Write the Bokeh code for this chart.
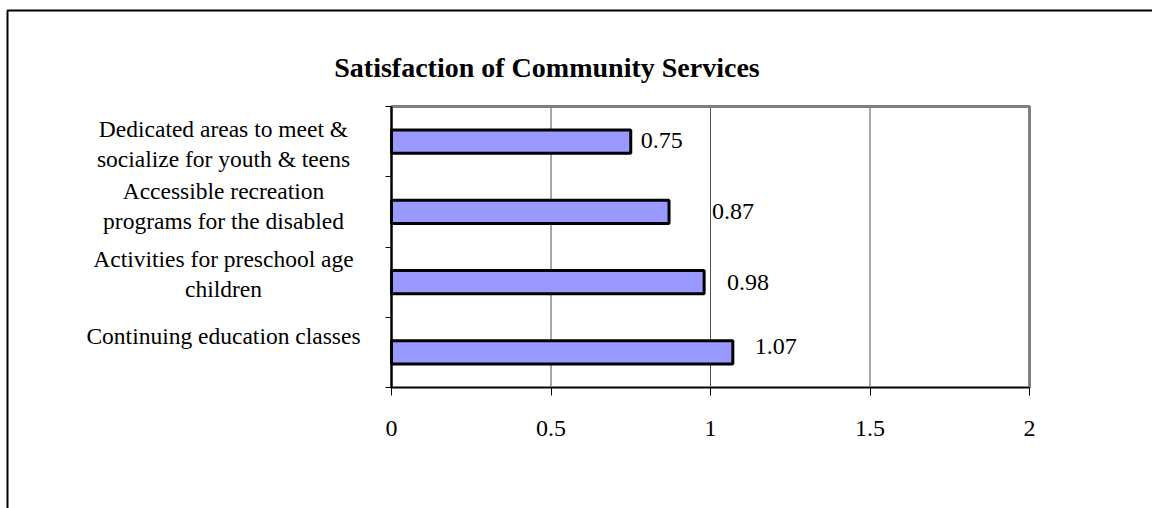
from bokeh.plotting import figure
from bokeh.models import (Range1d, FixedTicker, ColumnDataSource, LinearAxis, Grid)
from bokeh.core.properties import value
from bokeh.embed import file_html
from bokeh.resources import INLINE

# ---- data (top to bottom as shown) ----
title_text = "Satisfaction of Community Services"
categories = [
    "Dedicated areas to meet &\nsocialize for youth & teens",
    "Accessible recreation\nprograms for the disabled",
    "Activities for preschool age\nchildren",
    "Continuing education classes",
]
scores = [0.75, 0.87, 0.98, 1.07]
score_labels = ["0.75", "0.87", "0.98", "1.07"]
x_ticks = [0, 0.5, 1, 1.5, 2]

# ---- layout / style ----
W, H = 1152, 508
FRAME_L, FRAME_R, FRAME_T, FRAME_B = 391, 1029, 106, 387   # plot-area box in pixels
X_MAX = 2.0
n = len(categories)
SERIF = "Liberation Serif"

# small pixel nudges for label placement (style only; +y = down)
value_dx = [10, 43, 23, 22]
value_dy = [-1, 0, 0, -6]
cat_dy = [2, -6, -8, -16]


def px_to_x(px):
    return (px - FRAME_L) / (FRAME_R - FRAME_L) * X_MAX


def py_to_y(py):
    return n - (py - FRAME_T) / (FRAME_B - FRAME_T) * n


ypos = [n - i - 0.5 for i in range(n)]
grid_x = [t for t in x_ticks if 0 < t < X_MAX]

src = ColumnDataSource(dict(
    y=ypos, score=scores, score_label=score_labels, cat=categories,
    dx=value_dx, vdy=value_dy, cdy=cat_dy,
))

p = figure(
    width=W, height=H, output_backend="svg", toolbar_location=None, title=None,
    x_range=Range1d(px_to_x(0), px_to_x(W)), y_range=Range1d(py_to_y(H), py_to_y(0)),
    x_axis_location=None, y_axis_location=None,
    min_border=0, min_border_left=0, min_border_right=0, min_border_top=0, min_border_bottom=0,
    background_fill_color="white", border_fill_color="white",
    outline_line_color=None,
)
# drop default full-canvas grids
for g in list(p.center):
    if isinstance(g, Grid):
        g.visible = False

# outer chart frame (only left/top edges fall inside the window)
p.quad(left=[px_to_x(7)], right=[px_to_x(W + 100)], top=[py_to_y(10)], bottom=[py_to_y(H + 100)],
       fill_color=None, line_color="black", line_width=2)

# vertical gridlines inside the plot area
p.segment(x0=grid_x, x1=grid_x, y0=[0] * len(grid_x), y1=[n] * len(grid_x),
          line_color="#505050", line_width=1)

# plot-area border (grey)
p.quad(left=[0], right=[X_MAX], bottom=[0], top=[n], fill_color=None,
       line_color="#808080", line_width=3)

# bars
p.hbar(y="y", right="score", left=0, height=0.33, source=src,
       fill_color="#9999FF", line_color="black", line_width=3)

# x axis fixed at y = 0
xaxis = LinearAxis(fixed_location=0, bounds=(0, X_MAX), ticker=FixedTicker(ticks=x_ticks))
xaxis.axis_line_color = "black"
xaxis.axis_line_width = 1
xaxis.major_tick_out = 8
xaxis.major_tick_in = 0
xaxis.major_tick_line_color = "black"
xaxis.minor_tick_line_color = None
xaxis.major_label_text_font = SERIF
xaxis.major_label_text_font_size = "24px"
xaxis.major_label_text_color = "black"
xaxis.major_label_standoff = 25
p.add_layout(xaxis, "below")

# y axis fixed at x = 0, ticks on category boundaries, no tick labels
yticks = list(range(n + 1))
yaxis = LinearAxis(fixed_location=0, bounds=(0, n), ticker=FixedTicker(ticks=yticks))
yaxis.axis_line_color = "black"
yaxis.axis_line_width = 2
yaxis.major_tick_out = 6
yaxis.major_tick_in = 0
yaxis.major_tick_line_color = "black"
yaxis.minor_tick_line_color = None
yaxis.major_label_overrides = {t: "" for t in yticks}
p.add_layout(yaxis, "left")

# value labels
p.text(x="score", y="y", text="score_label", x_offset="dx", y_offset="vdy",
       source=src, text_font=value(SERIF), text_font_size="24px",
       text_color="black", text_align="left", text_baseline="middle")

# category labels (centred multi-line)
p.text(x=px_to_x(223), y="y", text="cat", y_offset="cdy", source=src,
       text_font=value(SERIF), text_font_size="23.5px", text_color="black",
       text_align="center", text_baseline="middle", text_line_height=1.15)

# title
p.text(x=[px_to_x(546.5)], y=[py_to_y(67)], text=[title_text],
       text_font=value(SERIF), text_font_size="28px", text_font_style="bold",
       text_color="black", text_align="center", text_baseline="alphabetic")

open("out.html", "w").write(file_html(p, INLINE))
